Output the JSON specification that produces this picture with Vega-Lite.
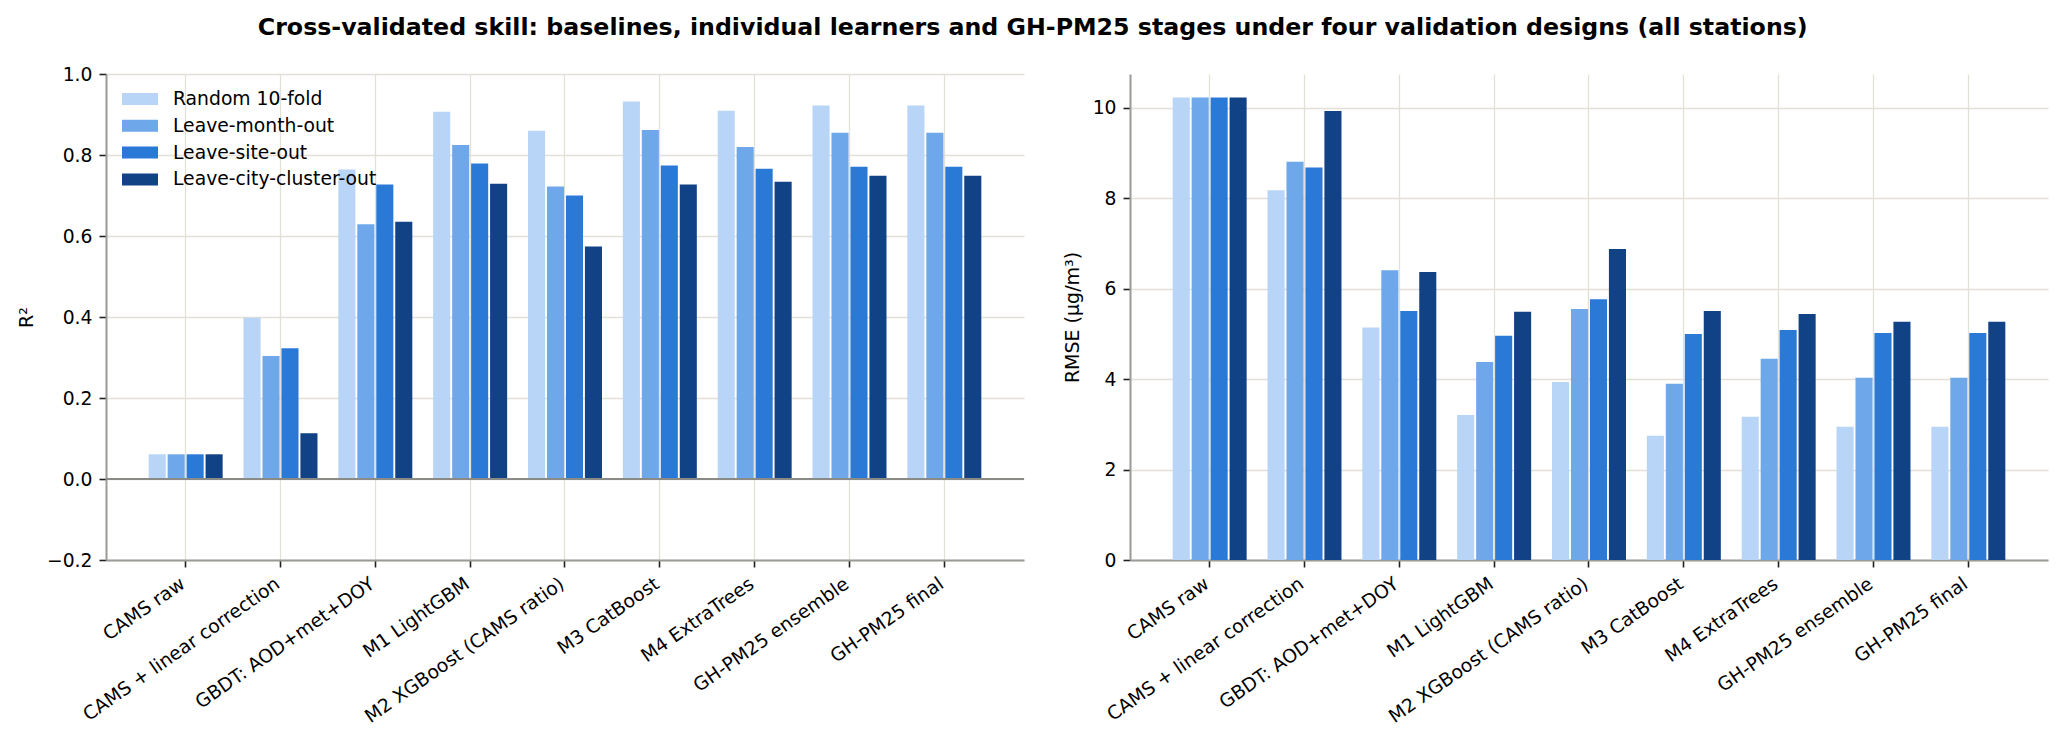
{
  "$schema": "https://vega.github.io/schema/vega-lite/v6.json",
  "padding": {"left": 17, "top": 16, "right": 5, "bottom": 5},
  "title": {
    "text": "Cross-validated skill: baselines, individual learners and GH-PM25 stages under four validation designs (all stations)",
    "fontSize": 23.7,
    "fontWeight": "bold",
    "color": "#000000",
    "anchor": "middle",
    "offset": 25
  },
  "datasets": {
    "skill": [
      {"metric": "R2", "model": "CAMS raw", "design": "Random 10-fold", "value": 0.061},
      {"metric": "R2", "model": "CAMS raw", "design": "Leave-month-out", "value": 0.061},
      {"metric": "R2", "model": "CAMS raw", "design": "Leave-site-out", "value": 0.061},
      {"metric": "R2", "model": "CAMS raw", "design": "Leave-city-cluster-out", "value": 0.061},
      {"metric": "R2", "model": "CAMS + linear correction", "design": "Random 10-fold", "value": 0.398},
      {"metric": "R2", "model": "CAMS + linear correction", "design": "Leave-month-out", "value": 0.304},
      {"metric": "R2", "model": "CAMS + linear correction", "design": "Leave-site-out", "value": 0.323},
      {"metric": "R2", "model": "CAMS + linear correction", "design": "Leave-city-cluster-out", "value": 0.113},
      {"metric": "R2", "model": "GBDT: AOD+met+DOY", "design": "Random 10-fold", "value": 0.764},
      {"metric": "R2", "model": "GBDT: AOD+met+DOY", "design": "Leave-month-out", "value": 0.629},
      {"metric": "R2", "model": "GBDT: AOD+met+DOY", "design": "Leave-site-out", "value": 0.727},
      {"metric": "R2", "model": "GBDT: AOD+met+DOY", "design": "Leave-city-cluster-out", "value": 0.635},
      {"metric": "R2", "model": "M1 LightGBM", "design": "Random 10-fold", "value": 0.907},
      {"metric": "R2", "model": "M1 LightGBM", "design": "Leave-month-out", "value": 0.825},
      {"metric": "R2", "model": "M1 LightGBM", "design": "Leave-site-out", "value": 0.779},
      {"metric": "R2", "model": "M1 LightGBM", "design": "Leave-city-cluster-out", "value": 0.729},
      {"metric": "R2", "model": "M2 XGBoost (CAMS ratio)", "design": "Random 10-fold", "value": 0.860},
      {"metric": "R2", "model": "M2 XGBoost (CAMS ratio)", "design": "Leave-month-out", "value": 0.722},
      {"metric": "R2", "model": "M2 XGBoost (CAMS ratio)", "design": "Leave-site-out", "value": 0.700},
      {"metric": "R2", "model": "M2 XGBoost (CAMS ratio)", "design": "Leave-city-cluster-out", "value": 0.574},
      {"metric": "R2", "model": "M3 CatBoost", "design": "Random 10-fold", "value": 0.932},
      {"metric": "R2", "model": "M3 CatBoost", "design": "Leave-month-out", "value": 0.862},
      {"metric": "R2", "model": "M3 CatBoost", "design": "Leave-site-out", "value": 0.774},
      {"metric": "R2", "model": "M3 CatBoost", "design": "Leave-city-cluster-out", "value": 0.727},
      {"metric": "R2", "model": "M4 ExtraTrees", "design": "Random 10-fold", "value": 0.909},
      {"metric": "R2", "model": "M4 ExtraTrees", "design": "Leave-month-out", "value": 0.820},
      {"metric": "R2", "model": "M4 ExtraTrees", "design": "Leave-site-out", "value": 0.766},
      {"metric": "R2", "model": "M4 ExtraTrees", "design": "Leave-city-cluster-out", "value": 0.734},
      {"metric": "R2", "model": "GH-PM25 ensemble", "design": "Random 10-fold", "value": 0.922},
      {"metric": "R2", "model": "GH-PM25 ensemble", "design": "Leave-month-out", "value": 0.855},
      {"metric": "R2", "model": "GH-PM25 ensemble", "design": "Leave-site-out", "value": 0.771},
      {"metric": "R2", "model": "GH-PM25 ensemble", "design": "Leave-city-cluster-out", "value": 0.749},
      {"metric": "R2", "model": "GH-PM25 final", "design": "Random 10-fold", "value": 0.922},
      {"metric": "R2", "model": "GH-PM25 final", "design": "Leave-month-out", "value": 0.855},
      {"metric": "R2", "model": "GH-PM25 final", "design": "Leave-site-out", "value": 0.771},
      {"metric": "R2", "model": "GH-PM25 final", "design": "Leave-city-cluster-out", "value": 0.749},
      {"metric": "RMSE", "model": "CAMS raw", "design": "Random 10-fold", "value": 10.23},
      {"metric": "RMSE", "model": "CAMS raw", "design": "Leave-month-out", "value": 10.23},
      {"metric": "RMSE", "model": "CAMS raw", "design": "Leave-site-out", "value": 10.23},
      {"metric": "RMSE", "model": "CAMS raw", "design": "Leave-city-cluster-out", "value": 10.23},
      {"metric": "RMSE", "model": "CAMS + linear correction", "design": "Random 10-fold", "value": 8.18},
      {"metric": "RMSE", "model": "CAMS + linear correction", "design": "Leave-month-out", "value": 8.81},
      {"metric": "RMSE", "model": "CAMS + linear correction", "design": "Leave-site-out", "value": 8.68},
      {"metric": "RMSE", "model": "CAMS + linear correction", "design": "Leave-city-cluster-out", "value": 9.93},
      {"metric": "RMSE", "model": "GBDT: AOD+met+DOY", "design": "Random 10-fold", "value": 5.14},
      {"metric": "RMSE", "model": "GBDT: AOD+met+DOY", "design": "Leave-month-out", "value": 6.41},
      {"metric": "RMSE", "model": "GBDT: AOD+met+DOY", "design": "Leave-site-out", "value": 5.51},
      {"metric": "RMSE", "model": "GBDT: AOD+met+DOY", "design": "Leave-city-cluster-out", "value": 6.37},
      {"metric": "RMSE", "model": "M1 LightGBM", "design": "Random 10-fold", "value": 3.21},
      {"metric": "RMSE", "model": "M1 LightGBM", "design": "Leave-month-out", "value": 4.38},
      {"metric": "RMSE", "model": "M1 LightGBM", "design": "Leave-site-out", "value": 4.96},
      {"metric": "RMSE", "model": "M1 LightGBM", "design": "Leave-city-cluster-out", "value": 5.49},
      {"metric": "RMSE", "model": "M2 XGBoost (CAMS ratio)", "design": "Random 10-fold", "value": 3.94},
      {"metric": "RMSE", "model": "M2 XGBoost (CAMS ratio)", "design": "Leave-month-out", "value": 5.55},
      {"metric": "RMSE", "model": "M2 XGBoost (CAMS ratio)", "design": "Leave-site-out", "value": 5.77},
      {"metric": "RMSE", "model": "M2 XGBoost (CAMS ratio)", "design": "Leave-city-cluster-out", "value": 6.88},
      {"metric": "RMSE", "model": "M3 CatBoost", "design": "Random 10-fold", "value": 2.75},
      {"metric": "RMSE", "model": "M3 CatBoost", "design": "Leave-month-out", "value": 3.90},
      {"metric": "RMSE", "model": "M3 CatBoost", "design": "Leave-site-out", "value": 5.00},
      {"metric": "RMSE", "model": "M3 CatBoost", "design": "Leave-city-cluster-out", "value": 5.51},
      {"metric": "RMSE", "model": "M4 ExtraTrees", "design": "Random 10-fold", "value": 3.17},
      {"metric": "RMSE", "model": "M4 ExtraTrees", "design": "Leave-month-out", "value": 4.45},
      {"metric": "RMSE", "model": "M4 ExtraTrees", "design": "Leave-site-out", "value": 5.09},
      {"metric": "RMSE", "model": "M4 ExtraTrees", "design": "Leave-city-cluster-out", "value": 5.44},
      {"metric": "RMSE", "model": "GH-PM25 ensemble", "design": "Random 10-fold", "value": 2.95},
      {"metric": "RMSE", "model": "GH-PM25 ensemble", "design": "Leave-month-out", "value": 4.03},
      {"metric": "RMSE", "model": "GH-PM25 ensemble", "design": "Leave-site-out", "value": 5.02},
      {"metric": "RMSE", "model": "GH-PM25 ensemble", "design": "Leave-city-cluster-out", "value": 5.27},
      {"metric": "RMSE", "model": "GH-PM25 final", "design": "Random 10-fold", "value": 2.95},
      {"metric": "RMSE", "model": "GH-PM25 final", "design": "Leave-month-out", "value": 4.03},
      {"metric": "RMSE", "model": "GH-PM25 final", "design": "Leave-site-out", "value": 5.02},
      {"metric": "RMSE", "model": "GH-PM25 final", "design": "Leave-city-cluster-out", "value": 5.27}
    ],
    "zero": [{"y": 0}]
  },
  "spacing": 38,
  "resolve": {"scale": {"y": "independent", "color": "shared"}, "legend": {"color": "independent"}},
  "hconcat": [
    {
      "width": 918,
      "height": 486,
      "layer": [
        {
          "data": {"name": "skill"},
          "transform": [{"filter": "datum.metric == 'R2'"}],
          "mark": {"type": "bar"},
          "encoding": {
            "x": {
              "field": "model",
              "type": "nominal",
              "sort": null,
              "scale": {"paddingInner": 0.2, "paddingOuter": 0.44},
              "axis": {"title": null, "labelAngle": -35, "labelAlign": "right", "labelBaseline": "top", "labelOffset": -8}
            },
            "xOffset": {
              "field": "design",
              "type": "nominal",
              "sort": ["Random 10-fold", "Leave-month-out", "Leave-site-out", "Leave-city-cluster-out"],
              "scale": {"paddingInner": 0.1, "paddingOuter": 0.05}
            },
            "y": {
              "field": "value",
              "type": "quantitative",
              "scale": {"domain": [-0.2, 1.0], "nice": false, "zero": false},
              "axis": {"title": "R²", "values": [-0.2, 0, 0.2, 0.4, 0.6, 0.8, 1.0], "format": ".1f"}
            },
            "color": {
              "field": "design",
              "type": "nominal",
              "sort": ["Random 10-fold", "Leave-month-out", "Leave-site-out", "Leave-city-cluster-out"],
              "scale": {
                "domain": ["Random 10-fold", "Leave-month-out", "Leave-site-out", "Leave-city-cluster-out"],
                "range": ["#b8d4f6", "#6ea8eb", "#2b79d7", "#114285"]
              },
              "legend": {
                "title": null,
                "orient": "none",
                "legendX": 22,
                "legendY": 13,
                "padding": 0,
                "symbolType": "M-1.5,-0.5H1.5V0.5H-1.5Z",
                "symbolSize": 576,
                "symbolStrokeWidth": 0,
                "symbolOpacity": 1,
                "labelOffset": 21,
                "labelFontSize": 18.75,
                "labelColor": "#000000",
                "labelLimit": 600,
                "rowPadding": 4.8
              }
            }
          }
        },
        {
          "data": {"name": "zero"},
          "mark": {"type": "rule", "color": "#8a8a86", "strokeWidth": 2},
          "encoding": {"y": {"field": "y", "type": "quantitative"}}
        }
      ]
    },
    {
      "width": 918,
      "height": 486,
      "data": {"name": "skill"},
      "transform": [{"filter": "datum.metric == 'RMSE'"}],
      "mark": {"type": "bar"},
      "encoding": {
        "x": {
          "field": "model",
          "type": "nominal",
          "sort": null,
          "scale": {"paddingInner": 0.2, "paddingOuter": 0.44},
          "axis": {"title": null, "labelAngle": -35, "labelAlign": "right", "labelBaseline": "top", "labelOffset": -8}
        },
        "xOffset": {
          "field": "design",
          "type": "nominal",
          "sort": ["Random 10-fold", "Leave-month-out", "Leave-site-out", "Leave-city-cluster-out"],
          "scale": {"paddingInner": 0.1, "paddingOuter": 0.05}
        },
        "y": {
          "field": "value",
          "type": "quantitative",
          "scale": {"domain": [0, 10.75], "nice": false},
          "axis": {"title": "RMSE (µg/m³)", "values": [0, 2, 4, 6, 8, 10], "format": "d"}
        },
        "color": {
          "field": "design",
          "type": "nominal",
          "sort": ["Random 10-fold", "Leave-month-out", "Leave-site-out", "Leave-city-cluster-out"],
          "scale": {
            "domain": ["Random 10-fold", "Leave-month-out", "Leave-site-out", "Leave-city-cluster-out"],
            "range": ["#b8d4f6", "#6ea8eb", "#2b79d7", "#114285"]
          },
          "legend": null
        }
      }
    }
  ],
  "config": {
    "font": "DejaVu Sans",
    "view": {"stroke": null},
    "axis": {
      "labelFont": "DejaVu Sans",
      "labelFontSize": 18.75,
      "labelColor": "#000000",
      "labelLimit": 600,
      "titleFont": "DejaVu Sans",
      "titleFontSize": 19,
      "titleFontWeight": "normal",
      "titleColor": "#000000",
      "titlePadding": 10,
      "tickColor": "#222222",
      "tickWidth": 1.6,
      "tickSize": 7,
      "labelPadding": 7,
      "domainColor": "#9a9a96",
      "domainWidth": 2,
      "grid": true,
      "gridColor": "#e2e0d8",
      "gridWidth": 1.3,
      "zindex": 1
    },
    "legend": {"labelFont": "DejaVu Sans"}
  }
}
